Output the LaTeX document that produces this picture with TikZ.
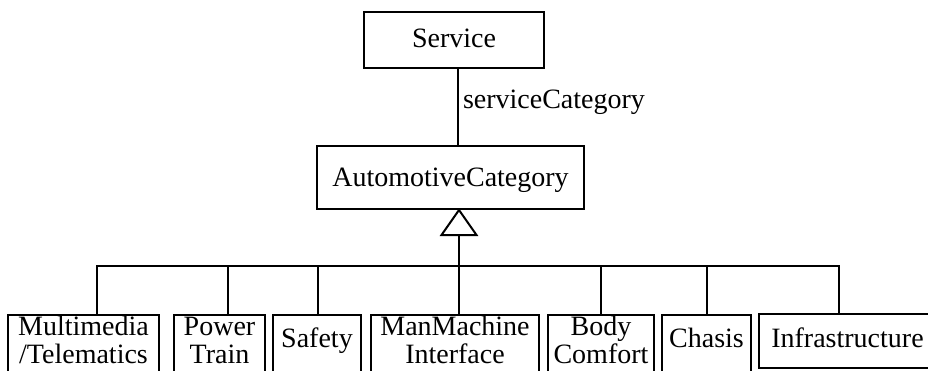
\documentclass[tikz,border=0pt]{standalone}
\usepackage{fontspec}
\setmainfont{Liberation Serif}
\begin{document}
\begin{tikzpicture}[x=1pt, y=-1pt, line width=2pt,
  cls/.style={draw, inner xsep=0pt, inner ysep=0pt, anchor=base,
              font=\fontsize{28}{28}\selectfont},
  twoline/.style={text height=20pt, text depth=40pt},
  oneline/.style={text height=32pt, text depth=28pt},
  role/.style={inner sep=0pt, font=\fontsize{28}{28}\selectfont},
  tworows/.style={}]
\useasboundingbox (0,0) rectangle (928,370);
\clip (0,0) rectangle (928,370);

% association Service -> AutomotiveCategory
\node[cls, minimum width=180pt, text height=35pt, text depth=21pt] (svc) at (454,47) {Service};
\node[cls, minimum width=267pt, text height=40pt, text depth=23pt] (ac) at (450.5,186) {AutomotiveCategory};
\coordinate (ax) at (458,0);
\draw (svc.south -| ax) -- (ac.north -| ax);
\node[role, anchor=base west] (rolename) at (462,108) {serviceCategory};

% subclasses
\node[cls, twoline, minimum width=151pt] (mm)  at (83.5,335)  {\begin{tabular}[t]{@{}c@{}}Multimedia\\/Telematics\end{tabular}};
\node[cls, twoline, minimum width=91pt]  (pt)  at (219.5,335) {\begin{tabular}[t]{@{}c@{}}Power\\Train\end{tabular}};
\node[cls, oneline, minimum width=88pt]  (sf)  at (317,347)   {Safety};
\node[cls, twoline, minimum width=168pt] (mmi) at (455,335)   {\begin{tabular}[t]{@{}c@{}}ManMachine\\Interface\end{tabular}};
\node[cls, twoline, minimum width=106pt] (bc)  at (601,335)   {\begin{tabular}[t]{@{}c@{}}Body\\Comfort\end{tabular}};
\node[cls, oneline, minimum width=89pt]  (ch)  at (706.5,347) {Chasis};
\node[cls, minimum width=177pt, text height=33pt, text depth=21pt] (inf) at (847.5,347) {Infrastructure};

% generalization: hollow triangle and tree of branches
\coordinate (hx) at (459,0);
\coordinate (tb) at (459,234);
\draw[fill=white] (ac.south -| hx) -- ++(-17.5,25) -- ++(35,0) -- cycle;

\coordinate (d1) at (97,266);
\coordinate (d2) at (228,266);
\coordinate (d3) at (318,266);
\coordinate (d4) at (459,266);
\coordinate (d5) at (601,266);
\coordinate (d6) at (707,266);
\coordinate (d7) at (839,266);

\draw (mm.north -| d1) -- (d1) -- (d7) -- (inf.north -| d7);
\draw (tb) -- (mmi.north -| d4);
\draw (d2) -- (pt.north -| d2);
\draw (d3) -- (sf.north -| d3);
\draw (d5) -- (bc.north -| d5);
\draw (d6) -- (ch.north -| d6);
\end{tikzpicture}
\end{document}
